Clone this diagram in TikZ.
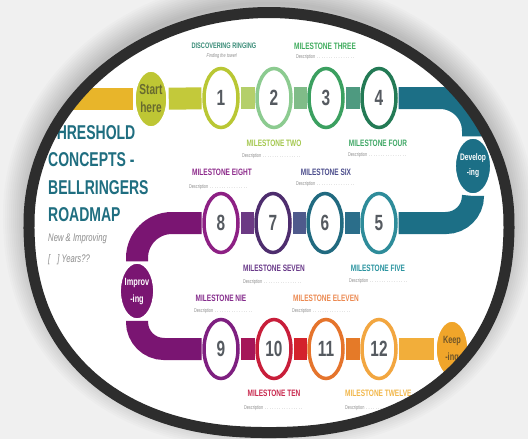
\documentclass[tikz,border=0pt]{standalone}
\usepackage{fontspec}
\usetikzlibrary{shapes.geometric}
\newfontfamily\cond{Liberation Sans}[FakeStretch=0.7]

\definecolor{bggray}{RGB}{240,240,240}
\definecolor{ringcol}{RGB}{45,45,45}
\definecolor{numgray}{RGB}{85,90,96}
\definecolor{descgray}{RGB}{140,140,140}
\definecolor{titlecol}{RGB}{31,110,128}
% road colours
\definecolor{rYel}{RGB}{232,181,42}
\definecolor{rStart}{RGB}{190,198,52}
\definecolor{rA}{RGB}{195,201,58}
\definecolor{rB}{RGB}{180,207,106}
\definecolor{rC}{RGB}{128,188,136}
\definecolor{rD}{RGB}{78,154,128}
\definecolor{rTeal}{RGB}{28,111,134}
\definecolor{rE}{RGB}{43,110,138}
\definecolor{rF}{RGB}{79,90,140}
\definecolor{rG}{RGB}{108,58,132}
\definecolor{rPurp}{RGB}{122,21,114}
\definecolor{rH}{RGB}{165,22,89}
\definecolor{rI}{RGB}{211,34,44}
\definecolor{rJ}{RGB}{229,122,40}
\definecolor{rK}{RGB}{242,174,58}
\definecolor{rKeep}{RGB}{240,165,42}
% milestone rings
\definecolor{s1}{RGB}{185,199,52}
\definecolor{s2}{RGB}{140,203,144}
\definecolor{s3}{RGB}{59,160,96}
\definecolor{s4}{RGB}{35,122,85}
\definecolor{s5}{RGB}{46,140,154}
\definecolor{s6}{RGB}{33,106,128}
\definecolor{s7}{RGB}{78,45,110}
\definecolor{s8}{RGB}{141,32,132}
\definecolor{s9}{RGB}{126,31,128}
\definecolor{s10}{RGB}{200,30,58}
\definecolor{s11}{RGB}{229,116,44}
\definecolor{s12}{RGB}{242,166,64}

\tikzstyle{stone}=[ellipse, draw, fill=white, line width=3.5pt, minimum width=34pt, minimum height=59pt, inner sep=0pt, outer sep=2.5pt, preaction={draw=white, line width=6.5pt}, text=numgray, font=\cond\bfseries\fontsize{22}{22}\selectfont]
\tikzstyle{hub}=[ellipse, draw=white, line width=2.5pt, minimum width=33pt, minimum height=57pt, inner sep=0pt, align=center]
\tikzstyle{road}=[line width=22pt]
\tikzstyle{mlabel}=[inner sep=0pt, font=\cond\bfseries\fontsize{9.3}{10}\selectfont]
\tikzstyle{mdesc}=[inner sep=0pt, text=descgray, font=\cond\fontsize{5.5}{6}\selectfont]
\tikzstyle{ring}=[line width=11pt, ringcol]

\newcommand{\desc}{\makebox[60pt][l]{Description\dotfill}}
% oval: plain ellipse on top, fuller below
\newcommand{\ovalpath}[3]{plot[domain=1:359, samples=180] ({269+#1*sign(cos(\x))*pow(abs(cos(\x)),(sin(\x)>0 ? 1 : 0.88))}, {#3-222.5+#2*sign(sin(\x))*pow(abs(sin(\x)),(sin(\x)>0 ? 1 : 0.88))}) -- cycle}

\begin{document}
\begin{tikzpicture}[x=1pt,y=1pt]
	\fill[bggray] (0,0) rectangle (528,-439);
	\useasboundingbox (0,0) rectangle (528,-439);

	% Shadow
	\foreach \w in {4,8,...,52}
		\draw[black, opacity=0.016, line width=\w pt] \ovalpath{240}{210}{9};

	\begin{scope}
		\clip \ovalpath{235}{205}{0};
		\fill[white] (0,0) rectangle (528,-439);

		% Top row
		\coordinate (in) at (10,-99);
		\node[hub, fill=rStart, text=rStart!45!black!90, font=\cond\bfseries\fontsize{14.5}{18}\selectfont] (st) at (151,-99) {Start\\here};
		\node[stone, draw=s1] (m1) at (221,-98) {1};
		\node[stone, draw=s2] (m2) at (274,-98) {2};
		\node[stone, draw=s3] (m3) at (326,-98) {3};
		\node[stone, draw=s4] (m4) at (379,-98) {4};
		\node[hub, fill=rTeal, text=white, font=\cond\bfseries\fontsize{9.5}{15}\selectfont] (dv) at (473,-166) {Develop\\-ing};

		% Middle row
		\node[stone, draw=s5] (m5) at (379,-223) {5};
		\node[stone, draw=s6] (m6) at (325,-223) {6};
		\node[stone, draw=s7] (m7) at (273,-223) {7};
		\node[stone, draw=s8] (m8) at (221,-223) {8};
		\node[hub, fill=rPurp, text=white, font=\cond\bfseries\fontsize{10.5}{17}\selectfont] (im) at (137,-291) {Improv\\-ing};

		% Bottom row
		\node[stone, draw=s9] (m9) at (221,-349) {9};
		\node[stone, draw=s10] (m10) at (274,-349) {10};
		\node[stone, draw=s11] (m11) at (326,-349) {11};
		\node[stone, draw=s12] (m12) at (379,-349) {12};
		\node[hub, fill=rKeep, text=rKeep!40!black!90, font=\cond\bfseries\fontsize{10.5}{17}\selectfont] (kp) at (452,-349) {Keep\\-ing};

		% Road
		\draw[road, rYel] (in) -- (st);
		\draw[road, rA] (st) -- (m1);
		\draw[road, rB] (m1) -- (m2);
		\draw[road, rC] (m2) -- (m3);
		\draw[road, rD] (m3) -- (m4);
		\draw[road, rTeal, rounded corners=33pt] (m4) -| (dv);
		\draw[road, rTeal, rounded corners=27pt] (dv) |- (m5);
		\draw[road, rE] (m5) -- (m6);
		\draw[road, rF] (m6) -- (m7);
		\draw[road, rG] (m7) -- (m8);
		\draw[road, rPurp, rounded corners=35pt] (m8) -| (im);
		\draw[road, rPurp, rounded corners=27pt] (im) |- (m9);
		\draw[road, rH] (m9) -- (m10);
		\draw[road, rI] (m10) -- (m11);
		\draw[road, rJ] (m11) -- (m12);
		\draw[road, rK] (m12) -- (kp);

		% Title
		\node[anchor=north west, inner sep=0pt, align=left, text=titlecol, font=\cond\bfseries\fontsize{20}{27.5}\selectfont] (tt) at (48,-125) {THRESHOLD\\CONCEPTS -\\BELLRINGERS\\ROADMAP};
		\node[anchor=west, inner sep=0pt, text=descgray, font=\cond\itshape\fontsize{11}{12}\selectfont] (sub) at (48,-239) {New \& Improving};
		\node[anchor=west, inner sep=0pt, text=descgray, font=\cond\itshape\fontsize{11}{12}\selectfont] (yrs) at (48,-260) {[\hspace{7pt}] Years??};

		% Milestone labels
		\node[mlabel, text={rgb,255:red,58;green,140;blue,120}, font=\cond\bfseries\fontsize{8}{9}\selectfont] (l1) at (224,-46) {DISCOVERING RINGING};
		\node[mdesc, font=\cond\itshape\fontsize{5.5}{6}\selectfont] (d1) at (222,-56) {Finding the tower!};
		\node[mlabel, text={rgb,255:red,65;green,173;blue,95}] (l3) at (325,-46) {MILESTONE THREE};
		\node[mdesc] (d3) at (326,-57) {\desc};
		\node[mlabel, text={rgb,255:red,165;green,200;blue,80}] (l2) at (274,-143) {MILESTONE TWO};
		\node[mdesc] (d2) at (272,-156) {\desc};
		\node[mlabel, text={rgb,255:red,64;green,168;blue,102}] (l4) at (378,-143) {MILESTONE FOUR};
		\node[mdesc] (d4) at (378,-155) {\desc};
		\node[mlabel, text={rgb,255:red,142;green,44;blue,140}] (l8) at (222,-172) {MILESTONE EIGHT};
		\node[mdesc] (d8) at (219,-187) {\desc};
		\node[mlabel, text={rgb,255:red,76;green,77;blue,140}] (l6) at (326,-172) {MILESTONE SIX};
		\node[mdesc] (d6) at (326,-184) {\desc};
		\node[mlabel, text={rgb,255:red,106;green,58;blue,138}] (l7) at (274,-268) {MILESTONE SEVEN};
		\node[mdesc] (d7) at (273,-282) {\desc};
		\node[mlabel, text={rgb,255:red,43;green,148;blue,160}] (l5) at (378,-268) {MILESTONE FIVE};
		\node[mdesc] (d5) at (379,-281) {\desc};
		\node[mlabel, text={rgb,255:red,133;green,44;blue,140}] (l9) at (221,-298) {MILESTONE NIE};
		\node[mdesc] (d9) at (224,-311) {\desc};
		\node[mlabel, text={rgb,255:red,236;green,138;blue,82}] (l11) at (326,-298) {MILESTONE ELEVEN};
		\node[mdesc] (d11) at (322,-311) {\desc};
		\node[mlabel, text={rgb,255:red,201;green,42;blue,79}] (l10) at (274,-393) {MILESTONE TEN};
		\node[mdesc] (d10) at (274,-408) {\desc};
		\node[mlabel, anchor=west, text={rgb,255:red,242;green,184;blue,76}] (l12) at (345,-393) {MILESTONE TWELVE};
		\node[mdesc, anchor=west] (d12) at (345,-408) {\desc};
	\end{scope}

	% Frame
	\draw[ring] \ovalpath{240}{210}{0};
\end{tikzpicture}
\end{document}
